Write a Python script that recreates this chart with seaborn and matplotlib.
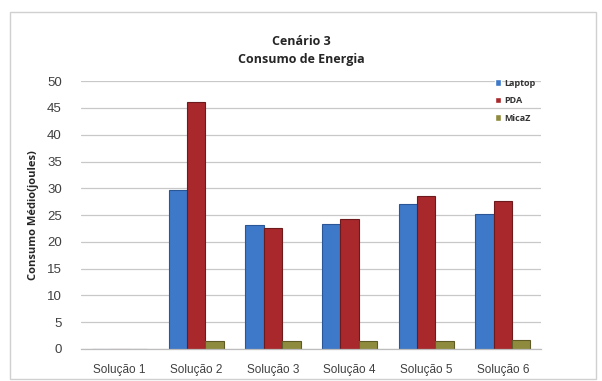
import matplotlib
matplotlib.use("Agg")
import matplotlib.pyplot as plt
from matplotlib.patches import Rectangle
import seaborn as sns
import pandas as pd

categories = ["Solução 1", "Solução 2", "Solução 3", "Solução 4", "Solução 5", "Solução 6"]
series_names = ["Laptop", "PDA", "MicaZ"]
laptop = [0, 29.6, 23.2, 23.4, 27.0, 25.2]
pda = [0, 46.2, 22.6, 24.2, 28.6, 27.7]
micaz = [0, 1.4, 1.4, 1.5, 1.4, 1.6]
y_ticks = list(range(0, 55, 5))

colors = ["#3E78C8", "#A8282C", "#8F8B3E"]
edges = ["#2A5597", "#6E1A1D", "#5E5B26"]

df = pd.DataFrame({
    "Solução": categories * 3,
    "Dispositivo": sum([[n] * len(categories) for n in series_names], []),
    "Consumo": laptop + pda + micaz,
})

sns.set_theme(style="white")
plt.rcParams["font.family"] = ["Liberation Sans", "DejaVu Sans"]

fig = plt.figure(figsize=(6.02, 3.81), dpi=100)
ax = fig.add_axes([0.135, 0.084, 0.764, 0.703])

sns.barplot(data=df, x="Solução", y="Consumo", hue="Dispositivo",
            palette=colors, saturation=1, width=0.72, ax=ax, legend=True)

# darker outlines per series
for cont, ec in zip(ax.containers, edges):
    for bar in cont:
        bar.set_edgecolor(ec)
        bar.set_linewidth(0.8)

ax.set_ylim(0, 50)
ax.set_xlim(-0.5, 5.5)
ax.set_yticks(y_ticks)
ax.set_yticklabels([str(t) for t in y_ticks])
ax.yaxis.grid(True, color="#C8C8C8", linewidth=0.9)
ax.set_axisbelow(True)
for side in ["top", "right", "left"]:
    ax.spines[side].set_visible(False)
ax.spines["bottom"].set_color("#BDBDBD")
ax.spines["bottom"].set_linewidth(0.9)

ax.tick_params(axis="y", labelsize=9.5, labelcolor="#404040", length=0, pad=14)
ax.tick_params(axis="x", labelsize=8.5, labelcolor="#404040", length=0, pad=11)

ax.set_xlabel("")
ax.set_ylabel("Consumo Médio(joules)", fontsize=8, fontweight="bold",
              fontfamily=["Open Sans", "DejaVu Sans"], color="#262626", labelpad=6)

leg = ax.legend(loc="upper right", bbox_to_anchor=(1.005, 1.04), frameon=False,
                handlelength=0.7, handleheight=0.7, handletextpad=0.3,
                labelspacing=0.95, prop={"family": ["Open Sans", "DejaVu Sans"],
                                         "weight": "bold", "size": 6.5})
for t in leg.get_texts():
    t.set_color("#333333")

fig.text(0.5, 0.89, "Cenário 3", ha="center", va="center", fontsize=9,
         fontweight="bold", fontfamily=["Open Sans", "DejaVu Sans"], color="#262626")
fig.text(0.5, 0.845, "Consumo de Energia", ha="center", va="center", fontsize=9,
         fontweight="bold", fontfamily=["Open Sans", "DejaVu Sans"], color="#262626")

# chart area border
fig.patches.append(Rectangle((10 / 602, 0.005), 0.99 - 10 / 602, 0.963,
                             transform=fig.transFigure, fill=False,
                             edgecolor="#D0D0D0", linewidth=1.0))

fig.savefig("out.png", dpi=100, facecolor="white")
